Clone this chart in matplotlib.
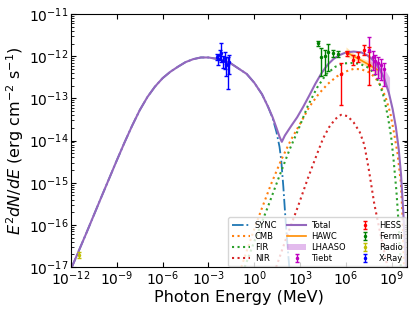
import numpy as np
import matplotlib
matplotlib.use("Agg")
import matplotlib.pyplot as plt

# model curves as log10(E / MeV), log10(E^2 dN/dE)
total_lgE = [-12.0, -11.0, -10.0, -9.0, -8.5, -8.0, -7.5, -7.0, -6.5, -6.0, -5.5, -5.0, -4.5, -4.0,
             -3.5, -3.0, -2.5, -2.0, -1.5, -1.0, -0.5, 0.0, 0.5, 0.9, 1.2, 1.45, 1.65, 1.8,
             2.0, 2.4, 2.8, 3.2, 3.6, 4.0, 4.4, 4.8, 5.2, 5.6, 6.0, 6.5, 7.0, 7.4, 7.8, 8.2,
             8.5, 8.8, 9.05, 9.26, 9.45, 9.6, 9.75, 9.92]
total_lgF = [-17.05, -16.2, -15.33, -14.47, -14.05, -13.65, -13.28, -12.97, -12.72, -12.52, -12.37, -12.25, -12.14, -12.07,
             -12.03, -12.03, -12.06, -12.1, -12.18, -12.3, -12.42, -12.63, -12.9, -13.2, -13.45, -13.7, -13.91, -14.03,
             -13.88, -13.66, -13.45, -13.2, -12.93, -12.65, -12.4, -12.2, -12.06, -11.97, -11.91, -11.89, -11.91, -11.98, -12.1, -12.3,
             -12.53, -12.86, -13.25, -13.67, -14.2, -14.8, -15.7, -17.0]

sync_lgE = [-12.0, -11.0, -10.0, -9.0, -8.5, -8.0, -7.5, -7.0, -6.5, -6.0, -5.5, -5.0, -4.5, -4.0,
            -3.5, -3.0, -2.5, -2.0, -1.5, -1.0, -0.5, 0.0, 0.5, 0.9, 1.2, 1.45, 1.65, 1.76,
            1.9, 2.02, 2.15, 2.3]
sync_lgF = [-17.05, -16.2, -15.33, -14.47, -14.05, -13.65, -13.28, -12.97, -12.72, -12.52, -12.37, -12.25, -12.14, -12.07,
            -12.03, -12.03, -12.06, -12.1, -12.18, -12.3, -12.42, -12.63, -12.9, -13.2, -13.47, -13.8, -14.15, -14.46,
            -15.1, -15.75, -16.4, -17.05]

cmb_lgE = [-0.85, -0.2, 0.46, 1.1, 1.76, 2.4, 3.0, 3.6, 4.2, 4.8, 5.4, 6.0, 6.5, 7.0, 7.5, 7.9,
           8.3, 8.6, 8.9, 9.15, 9.37, 9.59, 9.7, 9.8]
cmb_lgF = [-17.0, -16.3, -15.64, -15.03, -14.46, -13.98, -13.6, -13.2, -12.9, -12.66, -12.48, -12.36, -12.3, -12.31, -12.38, -12.5,
           -12.72, -12.98, -13.35, -13.83, -14.3, -15.0, -15.8, -17.0]

fir_lgE = [-0.63, 0.1, 0.89, 1.6, 2.3, 2.9, 3.5, 4.1, 4.7, 5.3, 5.9, 6.4, 6.9, 7.4, 7.85, 8.2,
           8.5, 8.75, 8.95, 9.1, 9.3, 9.45, 9.59]
fir_lgF = [-17.0, -16.3, -15.57, -14.88, -14.22, -13.72, -13.18, -12.75, -12.43, -12.25, -12.17, -12.16, -12.18, -12.26, -12.4, -12.65,
           -13.0, -13.45, -13.9, -14.4, -15.2, -16.0, -17.0]

nir_lgE = [1.43, 2.1, 2.85, 3.5, 4.04, 4.5, 4.9, 5.3, 5.67, 6.1, 6.5, 6.9, 7.2, 7.5, 7.85, 8.3, 8.72]
nir_lgF = [-17.0, -16.3, -15.57, -14.9, -14.38, -13.95, -13.68, -13.49, -13.39, -13.42, -13.57, -13.8, -14.1, -14.7, -15.5, -16.3, -17.0]

# measured spectra: log10 E, log10 flux, error below/above in dex
xray_lgE = [-2.45, -2.35, -2.25, -2.15, -2.05, -1.95, -1.85, -1.75, -1.65]
xray_lgF = [-12.02, -12.06, -11.98, -11.93, -12.12, -12.05, -12.18, -12.22, -12.13]
xray_lo = [0.08, 0.15, 0.12, 0.2, 0.15, 0.25, 0.3, 0.55, 0.3]
xray_hi = [0.08, 0.1, 0.12, 0.25, 0.12, 0.15, 0.15, 0.2, 0.15]

fermi_lgE = [4.15, 4.35, 4.6, 4.85, 5.13, 5.5]
fermi_lgF = [-11.69, -12.01, -12.0, -11.9, -11.93, -11.94]
fermi_lo = [0.06, 0.45, 0.45, 0.45, 0.1, 0.08]
fermi_hi = [0.06, 0.2, 0.15, 0.2, 0.08, 0.06]

hess_lgE = [5.67, 6.05, 6.43, 6.8, 7.2, 7.53]
hess_lgF = [-12.41, -11.93, -12.09, -12.01, -11.85, -12.21]
hess_lo = [0.75, 0.06, 0.12, 0.12, 0.12, 0.47]
hess_hi = [0.24, 0.06, 0.12, 0.12, 0.12, 0.44]

tiebt_lgE = [7.53, 7.75, 7.92, 8.1, 8.3, 8.5]
tiebt_lgF = [-11.85, -12.02, -12.12, -12.17, -12.21, -12.3]
tiebt_lo = [0.05, 0.3, 0.3, 0.35, 0.35, 0.4]
tiebt_hi = [0.3, 0.15, 0.15, 0.15, 0.15, 0.15]

radio_lgE = [-11.45]
radio_lgF = [-16.72]
radio_err = [0.07]

hawc_lgE = [6.0, 6.5, 7.0, 7.5, 8.05]
hawc_lgF = [-11.9, -12.0, -12.1, -12.2, -12.32]
hawc_width = [0.12, 0.07, 0.06, 0.09, 0.13]

lhaaso_lgE = [7.4, 7.8, 8.2, 8.6, 8.85]
lhaaso_up = [-11.95, -12.03, -12.15, -12.35, -12.5]
lhaaso_low = [-12.2, -12.3, -12.5, -12.75, -13.0]


def p10(v):
    return np.power(10.0, np.asarray(v, dtype=float))


def errbar(ax, lgE, lgF, lo, hi, color, label):
    F = p10(lgF)
    yerr = [F - p10(np.asarray(lgF) - np.asarray(lo)), p10(np.asarray(lgF) + np.asarray(hi)) - F]
    ax.errorbar(p10(lgE), F, yerr=yerr, fmt='.', color=color, ms=3,
                elinewidth=1, capsize=1.5, label=label)


fig = plt.figure(figsize=(4.15, 3.12), dpi=100)
ax = fig.add_axes([0.171, 0.144, 0.810, 0.811])

ax.plot(p10(sync_lgE), p10(sync_lgF), '-.', color='tab:blue', lw=1.3, label='SYNC')
ax.plot(p10(cmb_lgE), p10(cmb_lgF), ':', color='tab:orange', lw=1.5, label='CMB')
ax.plot(p10(fir_lgE), p10(fir_lgF), ':', color='tab:green', lw=1.5, label='FIR')
ax.plot(p10(nir_lgE), p10(nir_lgF), ':', color='tab:red', lw=1.5, label='NIR')
ax.plot(p10(total_lgE), p10(total_lgF), '-', color='tab:purple', lw=1.5, label='Total')

ax.plot(p10(hawc_lgE), p10(hawc_lgF), '-', color='darkorange', lw=1.2, label='HAWC')
ax.fill_between(p10(hawc_lgE), p10(np.array(hawc_lgF) - hawc_width),
                p10(np.array(hawc_lgF) + hawc_width), color='orange', alpha=0.3, lw=0)
ax.fill_between(p10(lhaaso_lgE), p10(lhaaso_low), p10(lhaaso_up),
                color='mediumorchid', alpha=0.4, lw=0, label='LHAASO')

errbar(ax, tiebt_lgE, tiebt_lgF, tiebt_lo, tiebt_hi, 'm', 'Tiebt')
errbar(ax, hess_lgE, hess_lgF, hess_lo, hess_hi, 'r', 'HESS')
errbar(ax, fermi_lgE, fermi_lgF, fermi_lo, fermi_hi, 'g', 'Fermi')
errbar(ax, radio_lgE, radio_lgF, radio_err, radio_err, 'y', 'Radio')
errbar(ax, xray_lgE, xray_lgF, xray_lo, xray_hi, 'b', 'X-Ray')

ax.set_xscale('log')
ax.set_yscale('log')
ax.set_xlim(1e-12, 1e10)
ax.set_ylim(1e-17, 1e-11)
ax.set_xticks([1e-12, 1e-9, 1e-6, 1e-3, 1e0, 1e3, 1e6, 1e9])
ax.xaxis.set_minor_locator(matplotlib.ticker.NullLocator())
ax.tick_params(which='both', direction='in', top=True, right=True, labelsize=10, pad=2)
ax.set_xlabel('Photon Energy (MeV)', fontsize=11.5, labelpad=1)
ax.set_ylabel(r'$E^2dN/dE$ (erg cm$^{-2}$ s$^{-1}$)', fontsize=11.5, labelpad=2)

ax.legend(loc='lower right', ncol=3, fontsize=6, handlelength=2.2, columnspacing=1.2,
          labelspacing=0.25, borderaxespad=0.1, handletextpad=0.6, framealpha=0.8)

fig.savefig('out.png', dpi=100)
